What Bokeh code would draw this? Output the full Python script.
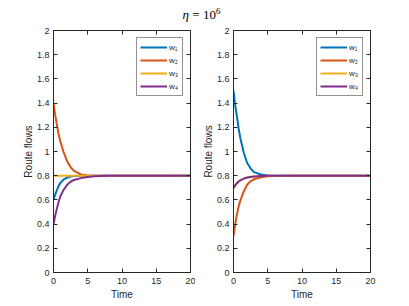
from bokeh.plotting import figure
from bokeh.models import LinearAxis, Div, Legend, LegendItem, FixedTicker, CustomJSTickFormatter
from bokeh.layouts import column, row
from bokeh.embed import file_html
from bokeh.resources import INLINE

# ---- data ----
time = [0, 0.25, 0.5, 0.75, 1, 1.5, 2, 2.5, 3, 4, 5, 6, 8, 10, 15, 20]

left_w1 = [0.6, 0.645, 0.68, 0.715, 0.74, 0.77, 0.785, 0.793, 0.797, 0.8, 0.8, 0.8, 0.8, 0.8, 0.8, 0.8]
left_w2 = [1.4, 1.3, 1.22, 1.14, 1.085, 0.99, 0.92, 0.87, 0.84, 0.81, 0.8, 0.8, 0.8, 0.8, 0.8, 0.8]
left_w3 = [0.8, 0.8, 0.8, 0.8, 0.8, 0.8, 0.8, 0.8, 0.8, 0.8, 0.8, 0.8, 0.8, 0.8, 0.8, 0.8]
left_w4 = [0.4, 0.47, 0.53, 0.585, 0.63, 0.685, 0.725, 0.75, 0.765, 0.78, 0.79, 0.795, 0.8, 0.8, 0.8, 0.8]

right_w1 = [1.5, 1.38, 1.29, 1.19, 1.11, 0.99, 0.905, 0.86, 0.83, 0.81, 0.802, 0.8, 0.8, 0.8, 0.8, 0.8]
right_w2 = [0.3, 0.4, 0.48, 0.545, 0.595, 0.67, 0.725, 0.755, 0.77, 0.787, 0.795, 0.798, 0.8, 0.8, 0.8, 0.8]
right_w3 = [0.7, 0.72, 0.738, 0.752, 0.762, 0.776, 0.785, 0.79, 0.794, 0.797, 0.8, 0.8, 0.8, 0.8, 0.8, 0.8]
right_w4 = [0.7, 0.72, 0.738, 0.752, 0.762, 0.776, 0.785, 0.79, 0.794, 0.797, 0.8, 0.8, 0.8, 0.8, 0.8, 0.8]

series_labels = ["w\u2081", "w\u2082", "w\u2083", "w\u2084"]
colors = ["#0072BD", "#D95319", "#EDB120", "#7E2F8E"]
x_ticks = [0, 5, 10, 15, 20]
y_ticks = [0, 0.2, 0.4, 0.6, 0.8, 1, 1.2, 1.4, 1.6, 1.8, 2]
title_text = "<i>&eta;</i> = 10<sup style='font-size:9px'>6</sup>"
x_label = "Time"
y_label = "Route flows"

AX = "#262626"
FONT = "Liberation Sans"


def make(ws, bl, br):
    p = figure(width=bl + 137 + br, height=8 + 242 + 30, x_range=(0, 20), y_range=(0, 2),
               output_backend="svg", toolbar_location=None,
               min_border_left=bl, min_border_right=br, min_border_top=8, min_border_bottom=30)
    p.grid.visible = False
    p.outline_line_color = AX
    p.background_fill_color = "white"
    fmt = CustomJSTickFormatter(code="return String(tick);")
    for ax, ticks in ((p.xaxis[0], x_ticks), (p.yaxis[0], y_ticks)):
        ax.ticker = FixedTicker(ticks=ticks)
        ax.formatter = fmt
        ax.major_tick_in = 4
        ax.major_tick_out = 0
        ax.minor_tick_line_color = None
        ax.axis_line_color = AX
        ax.major_tick_line_color = AX
        ax.major_label_text_color = AX
        ax.major_label_text_font = FONT
        ax.major_label_text_font_size = "9px"
        ax.axis_label_text_font = FONT
        ax.axis_label_text_font_size = "10px"
        ax.axis_label_text_font_style = "normal"
        ax.axis_label_text_color = AX
    p.xaxis[0].axis_label = x_label
    p.yaxis[0].axis_label = y_label
    p.xaxis[0].major_label_standoff = 5
    p.xaxis[0].axis_label_standoff = 2
    p.yaxis[0].major_label_standoff = 4
    p.yaxis[0].axis_label_standoff = 0
    blank = CustomJSTickFormatter(code="return '';")
    for loc, ticks in (("right", y_ticks), ("above", x_ticks)):
        a = LinearAxis(ticker=FixedTicker(ticks=ticks), formatter=blank,
                       major_label_standoff=0, major_tick_in=4, major_tick_out=0,
                       minor_tick_line_color=None, axis_line_color=AX, major_tick_line_color=AX)
        p.add_layout(a, loc)
    items = []
    for w, c, lab in zip(ws, colors, series_labels):
        r = p.line(time, w, line_color=c, line_width=2, line_join="round")
        items.append(LegendItem(label=lab, renderers=[r]))
    leg = Legend(items=items, location="top_right", border_line_color=AX, border_line_width=1,
                 label_text_font=FONT, label_text_font_size="8px", label_text_color=AX,
                 glyph_width=27, glyph_height=12, label_height=12, label_width=10,
                 spacing=1, padding=3, margin=7, label_standoff=2, background_fill_alpha=1)
    p.add_layout(leg)
    return p


p1 = make([left_w1, left_w2, left_w3, left_w4], 53, 5)
p2 = make([right_w1, right_w2, right_w3, right_w4], 38, 10)

title = Div(text=title_text, width=393, height=12,
            styles={"text-align": "center", "font-family": "Liberation Serif", "font-size": "13px",
                    "line-height": "12px", "color": "#000", "width": "393px"})

layout = column(title, row(p1, p2, spacing=0), spacing=0)
open("out.html", "w").write(file_html(layout, INLINE))
